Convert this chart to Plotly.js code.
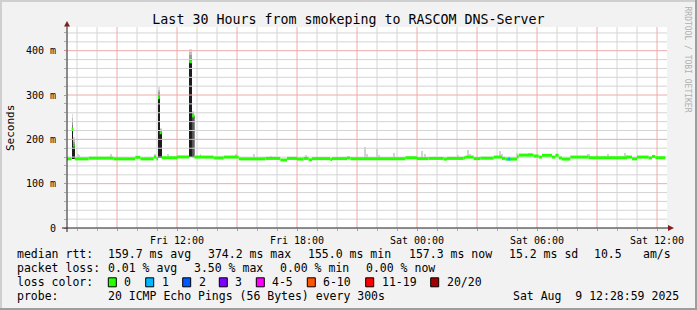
<!DOCTYPE html>
<html><head><meta charset="utf-8">
<script src="https://cdn.plot.ly/plotly-3.0.1.min.js"></script>
<style>html,body{margin:0;padding:0;background:#f2f2f2}#chart{width:697px;height:310px}</style>
</head><body><div id="chart"></div>
<script>
// ---- median RTT (ms), step segments: value holds from time until next time ----
const rttTimes = [
 '2025-08-08 06:30','2025-08-08 06:44','2025-08-08 06:49','2025-08-08 06:53','2025-08-08 07:35',
 '2025-08-08 08:50','2025-08-08 09:55','2025-08-08 10:10','2025-08-08 10:50','2025-08-08 10:58',
 '2025-08-08 11:03','2025-08-08 11:08','2025-08-08 11:14','2025-08-08 12:00','2025-08-08 12:37',
 '2025-08-08 12:45','2025-08-08 12:52','2025-08-08 13:50','2025-08-08 14:20','2025-08-08 15:05',
 '2025-08-08 16:25','2025-08-08 17:10','2025-08-08 17:30','2025-08-08 18:00','2025-08-08 18:20',
 '2025-08-08 18:35','2025-08-08 18:45','2025-08-08 19:40','2025-08-08 19:45','2025-08-08 20:30',
 '2025-08-08 20:40','2025-08-08 23:25','2025-08-09 00:00','2025-08-09 00:35','2025-08-09 01:20',
 '2025-08-09 01:30','2025-08-09 02:20','2025-08-09 02:25','2025-08-09 02:50','2025-08-09 03:10',
 '2025-08-09 03:50','2025-08-09 04:15','2025-08-09 04:25','2025-08-09 05:00','2025-08-09 05:05',
 '2025-08-09 05:50','2025-08-09 06:05','2025-08-09 06:15','2025-08-09 06:45','2025-08-09 06:55',
 '2025-08-09 07:05','2025-08-09 07:15','2025-08-09 07:40','2025-08-09 08:35','2025-08-09 10:30',
 '2025-08-09 10:45','2025-08-09 11:00','2025-08-09 11:35','2025-08-09 11:45','2025-08-09 11:55'
];
const rttValues = [
 156,223,185,156,157.5,
 156,159.5,156,160,156,
 294,215,158.5,160.3,375,
 253,160,158,160,156,
 157,153.5,157,155.5,157,
 154,156.5,154.5,156.5,158,
 156.5,158.5,156.5,157,155.5,
 157,158.5,160,156.5,157.5,
 160,157,155.5,161,164.5,
 162.5,160,164,160,164,
 158,155.5,160,158.5,160,
 156,160,158,161.5,158.5
];
const rttEnd = '2025-08-09 12:25';

// ---- periods with packet loss (loss colour "1") ----
const lossStart = ['2025-08-09 04:32'];
const lossEnd = ['2025-08-09 04:40'];

// ---- dense smoke columns (ms): low edge and top of spread ----
const coreStart = ['2025-08-08 06:44','2025-08-08 06:49','2025-08-08 11:03','2025-08-08 11:10','2025-08-08 12:37'];
const coreEnd   = ['2025-08-08 06:49','2025-08-08 06:53','2025-08-08 11:08','2025-08-08 11:14','2025-08-08 12:45'];
const coreLow   = [156,156,157,158,160];
const coreHigh  = [258,205,318,226,404];
const spreadStart = ['2025-08-08 12:45'];
const spreadEnd   = ['2025-08-08 12:52'];
const spreadLow   = [160];
const spreadHigh  = [265];

// ---- light smoke puffs above the median (ms, top of spread) ----
const puffTimes = [
 '2025-08-08 07:00','2025-08-08 07:05','2025-08-08 08:40','2025-08-08 10:52','2025-08-08 11:31',
 '2025-08-08 13:08','2025-08-08 14:55','2025-08-08 15:48','2025-08-08 16:40','2025-08-08 18:25',
 '2025-08-08 21:22','2025-08-08 21:28','2025-08-08 21:57','2025-08-08 22:04','2025-08-08 22:48',
 '2025-08-09 00:12','2025-08-09 00:22','2025-08-09 02:00','2025-08-09 02:31','2025-08-09 02:37',
 '2025-08-09 04:07','2025-08-09 04:13','2025-08-09 04:58','2025-08-09 05:34','2025-08-09 05:40',
 '2025-08-09 08:30','2025-08-09 08:35','2025-08-09 08:58','2025-08-09 09:31','2025-08-09 10:22',
 '2025-08-09 10:28'
];
const puffHigh = [
 166,164,166,166,166,
 166,168,166.5,162,164,
 183,166,177.5,164,169,
 174,166,164,175,166,
 173,166,169,169,170,
 168,168,164,166,170,
 164
];

// ---- axis ticks ----
const xRange = ['2025-08-08 06:30','2025-08-09 12:30'];
const xTickVals = ['2025-08-08 09:00','2025-08-08 12:00','2025-08-08 15:00','2025-08-08 18:00','2025-08-08 21:00',
                   '2025-08-09 00:00','2025-08-09 03:00','2025-08-09 06:00','2025-08-09 09:00','2025-08-09 12:00'];
const xTickText = ['','Fri 12:00','','Fri 18:00','','Sat 00:00','','Sat 06:00','','Sat 12:00'];
const xMinorVals = ['2025-08-08 07:00','2025-08-08 08:00','2025-08-08 10:00','2025-08-08 11:00','2025-08-08 13:00',
 '2025-08-08 14:00','2025-08-08 16:00','2025-08-08 17:00','2025-08-08 19:00','2025-08-08 20:00','2025-08-08 22:00',
 '2025-08-08 23:00','2025-08-09 01:00','2025-08-09 02:00','2025-08-09 04:00','2025-08-09 05:00','2025-08-09 07:00',
 '2025-08-09 08:00','2025-08-09 10:00','2025-08-09 11:00'];
const yTickVals = [0,100,200,300,400];
const yTickText = ['0','100 m','200 m','300 m','400 m'];
const yMinorVals = [20,40,60,80,120,140,160,180,220,240,260,280,320,340,360,380,420,440];
const yMax = 453.5;

// ---- legend texts ----
const titleText = 'Last 30 Hours from smokeping to RASCOM DNS-Server';
const rttStats = ['159.7 ms avg','374.2 ms max','155.0 ms min','157.3 ms now','15.2 ms sd','10.5','am/s'];
const lossStats = ['0.01 % avg','3.50 % max','0.00 % min','0.00 % now'];
const lossLabels = ['0','1','2','3','4-5','6-10','11-19','20/20'];
const lossColors = ['#26ff00','#00b8ff','#0059ff','#7e00ff','#ff00ff','#ff5500','#ff0000','#a10000'];
const probeText = '20 ICMP Echo Pings (56 Bytes) every 300s';
const stampText = 'Sat Aug  9 12:28:59 2025';

// ================= build =================
const T = s => Date.parse(s.replace(' ','T') + ':00Z');
const FIVE = 5*60*1000;
function valueAt(s){
  const t = T(s); let v = rttValues[0];
  for (let i=0;i<rttTimes.length;i++){ if (T(rttTimes[i]) <= t) v = rttValues[i]; }
  return v;
}
const traces = [];
const noHover = {hoverinfo:'skip', showlegend:false};

// grid lines as plain line traces (rrdtool dotted grid, drawn in its light average tone)
function gridTrace(xs, ys, color){
  return Object.assign({type:'scatter', mode:'lines', x:xs, y:ys, connectgaps:false,
    line:{color:color, width:1}}, noHover);
}
const vx=(vals)=>{const a=[];vals.forEach(v=>a.push(v,v,null));return a;};
const vy=(vals)=>{const a=[];vals.forEach(()=>a.push(0,yMax,null));return a;};
const hx=(vals)=>{const a=[];vals.forEach(()=>a.push(xRange[0],xRange[1],null));return a;};
const hy=(vals)=>{const a=[];vals.forEach(v=>a.push(v,v,null));return a;};
const gridGray='#d4d4d4', gridRed='#efaaaa';
traces.push(gridTrace(vx(xMinorVals), vy(xMinorVals), gridGray));
traces.push(gridTrace(hx(yMinorVals), hy(yMinorVals), gridGray));
traces.push(gridTrace(vx(xTickVals), vy(xTickVals), gridRed));
traces.push(gridTrace(hx(yTickVals.slice(1)), hy(yTickVals.slice(1)), gridRed));

// puffs
traces.push(Object.assign({type:'bar', x:puffTimes,
  base:puffTimes.map(valueAt), y:puffTimes.map((t,i)=>puffHigh[i]-valueAt(t)),
  width:puffTimes.map(()=>FIVE), offset:0,
  marker:{color:'#d2d2d2', line:{width:0}}}, noHover));

// gradient above median for spike columns
const upStart = coreStart.concat(spreadStart), upEnd = coreEnd.concat(spreadEnd), upHigh = coreHigh.concat(spreadHigh);
const shades = ['#7a7a7a','#9c9c9c','#bdbdbd','#dcdcdc'];
shades.forEach((c,k)=>{
  traces.push(Object.assign({type:'bar', x:upStart,
    base:upStart.map((s,i)=>{const m=valueAt(s); return m+(upHigh[i]-m)*k/shades.length;}),
    y:upStart.map((s,i)=>{const m=valueAt(s); return (upHigh[i]-m)/shades.length;}),
    width:upStart.map((s,i)=>T(upEnd[i])-T(s)), offset:0,
    marker:{color:c, line:{width:0}}}, noHover));
});
// dense core below median
traces.push(Object.assign({type:'bar', x:coreStart, base:coreLow,
  y:coreStart.map((s,i)=>valueAt(s)-coreLow[i]),
  width:coreStart.map((s,i)=>T(coreEnd[i])-T(s)), offset:0,
  marker:{color:'#1c1c1c', line:{width:0}}}, noHover));
traces.push(Object.assign({type:'bar', x:spreadStart, base:spreadLow,
  y:spreadStart.map((s,i)=>valueAt(s)-spreadLow[i]),
  width:spreadStart.map((s,i)=>T(spreadEnd[i])-T(s)), offset:0,
  marker:{color:'#646464', line:{color:'#2a2a2a', width:0.5}}}, noHover));

// median band segments
const mx=[], my=[];
for (let i=0;i<rttTimes.length;i++){
  const e = i+1<rttTimes.length ? rttTimes[i+1] : rttEnd;
  mx.push(rttTimes[i], e, null); my.push(rttValues[i], rttValues[i], null);
}
traces.push(Object.assign({type:'scatter', mode:'lines', x:mx, y:my, connectgaps:false,
  line:{color:lossColors[0], width:3}}, noHover));
// loss-coloured part
const lx=[], ly=[];
lossStart.forEach((s,i)=>{ lx.push(s, lossEnd[i], null); ly.push(valueAt(s), valueAt(s), null); });
traces.push(Object.assign({type:'scatter', mode:'lines', x:lx, y:ly, connectgaps:false,
  line:{color:lossColors[1], width:3}}, noHover));

// ---- pixel helpers for decorations ----
const L=67, R=667, TOP=27, BOT=228;
const PX = p => (p-L)/(R-L);
const PY = p => (BOT-p)/(BOT-TOP);
const mono = 'DejaVu Sans Mono, monospace';
const ann = [];
function txt(x,y,t,opt){ ann.push(Object.assign({xref:'paper',yref:'paper',x:PX(x),y:PY(y),text:t,
  showarrow:false,xanchor:'left',yanchor:'middle',borderpad:0,font:{family:mono,size:11.5,color:'#000'}},opt||{})); }

const rows=[254.3,268.3,282.3,296.2];
txt(16,rows[0],'median rtt:');
[107.3,207.3,307.3,407.7,507.7,593.3,642.3].forEach((x,i)=>txt(x,rows[0],rttStats[i]));
txt(16,rows[1],'packet loss:');
[107.3,193.3,279.3,365].forEach((x,i)=>txt(x,rows[1],lossStats[i]));
txt(16,rows[2],'loss color:');
const boxX=[108.3,145.7,182.7,219.3,256.3,307.3,365.7,430.7];
const shapes=[];
lossLabels.forEach((l,i)=>{
  txt(boxX[i]+15,rows[2],l);
  shapes.push({type:'rect',xref:'paper',yref:'paper',x0:PX(boxX[i]),x1:PX(boxX[i]+8),
    y0:PY(rows[2]+4.5),y1:PY(rows[2]-4.5),fillcolor:lossColors[i],line:{color:'#000',width:1}});
});
txt(16,rows[3],'probe:');
txt(107.3,rows[3],probeText);
txt(680,rows[3],stampText,{xanchor:'right'});
txt(10,128,'Seconds',{xanchor:'center',textangle:-90,font:{family:mono,size:11,color:'#000'}});
txt(687.5,59,'RRDTOOL / TOBI OETIKER',{xanchor:'center',textangle:90,font:{family:mono,size:8,color:'#b0b0b0'}});

// frame
const fr = (x0,y0,x1,y1,c,w)=>shapes.push({type:'line',xref:'paper',yref:'paper',x0:PX(x0),y0:PY(y0),x1:PX(x1),y1:PY(y1),line:{color:c,width:w}});
fr(0,1,697,1,'#cfcfcf',2); fr(1,0,1,310,'#cfcfcf',2);
fr(0,309,697,309,'#9e9e9e',2); fr(696,0,696,310,'#9e9e9e',2);
// axes + arrows
fr(62,228,668,228,'#1f1f1f',1);
fr(67,232,67,26,'#1f1f1f',1);
const path = pts => 'M '+pts.map(p=>PX(p[0])+','+PY(p[1])).join(' L ')+' Z';
shapes.push({type:'path',xref:'paper',yref:'paper',path:path([[668,225],[674,228],[668,231]]),fillcolor:'#801f1f',line:{width:0}});
shapes.push({type:'path',xref:'paper',yref:'paper',path:path([[64,26.5],[67,21],[70,26.5]]),fillcolor:'#801f1f',line:{width:0}});

const layout = {
  width:697, height:310, margin:{l:L,r:697-R,t:TOP,b:310-BOT,autoexpand:false},
  paper_bgcolor:'#f2f2f2', plot_bgcolor:'#ffffff', barmode:'overlay', bargap:0,
  hovermode:false, showlegend:false,
  title:{text:titleText, font:{family:mono,size:13.3,color:'#000'}, x:0.5, xref:'container', xanchor:'center',
         y:1-19/310, yref:'container', yanchor:'middle'},
  xaxis:{type:'date', range:xRange, tickmode:'array', tickvals:xTickVals, ticktext:xTickText,
    showgrid:false, zeroline:false, showline:false, ticks:'outside', ticklen:2, tickcolor:'#e48080', ticklabelstandoff:1,
    minor:{tickmode:'array', tickvals:xMinorVals, showgrid:false, ticks:'outside', ticklen:2, tickcolor:'#ababab'},
    tickfont:{family:mono,size:10,color:'#000'}, fixedrange:true},
  yaxis:{range:[0,yMax], tickmode:'array', tickvals:yTickVals, ticktext:yTickText,
    showgrid:false, zeroline:false, showline:false, ticks:'outside', ticklen:2, tickcolor:'#e48080', ticklabelstandoff:6,
    minor:{tickmode:'array', tickvals:yMinorVals, showgrid:false, ticks:'outside', ticklen:2, tickcolor:'#ababab'},
    tickfont:{family:mono,size:10,color:'#000'}, fixedrange:true},
  annotations:ann, shapes:shapes
};
Plotly.newPlot('chart', traces, layout, {staticPlot:true, displayModeBar:false});
</script></body></html>
